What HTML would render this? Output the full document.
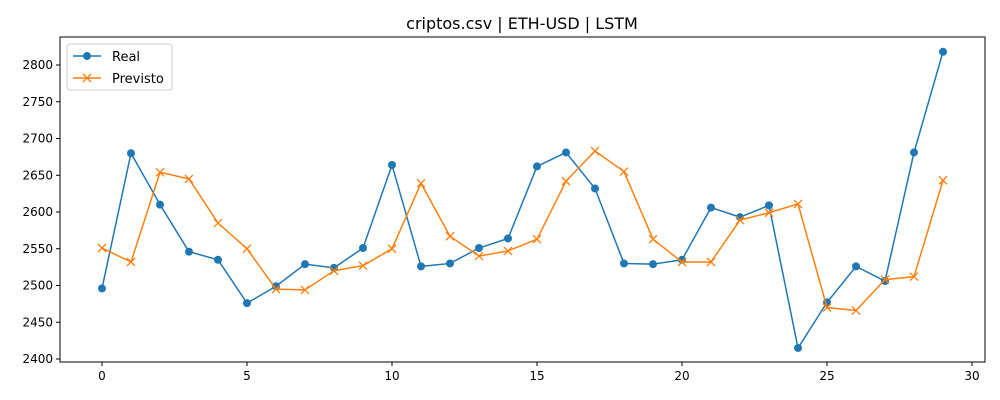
<!DOCTYPE html>
<html><head><meta charset="utf-8"><style>
body{margin:0;background:#fff;}
svg{display:block;font-family:"DejaVu Sans","Liberation Sans",sans-serif;}
</style></head><body>
<svg id="chart" width="1000" height="400">
<text x="522" y="29" font-size="16" text-anchor="middle">criptos.csv | ETH-USD | LSTM</text>
</svg>
<script>
const xValues=[0,1,2,3,4,5,6,7,8,9,10,11,12,13,14,15,16,17,18,19,20,21,22,23,24,25,26,27,28,29];
const realValues=[2496,2680,2610,2546,2535,2476,2499,2529,2524,2551,2664,2526,2530,2551,2564,2662,2681,2632,2530,2529,2535,2606,2593,2609,2415,2477,2526,2506,2681,2818];
const predValues=[2551,2532,2654,2645,2585,2550,2495,2494,2520,2527,2550,2639,2567,2540,2547,2563,2642,2683,2655,2563,2532,2532,2589,2599,2611,2470,2466,2508,2512,2643];
const xTicks=[0,5,10,15,20,25,30];
const yTicks=[2400,2450,2500,2550,2600,2650,2700,2750,2800];
const L=60,R=985,T=37,B=362;
const sx=v=>102+v*29;
const sy=v=>359-(v-2400)*0.735;
const svg=document.getElementById('chart');
const NS='http://www.w3.org/2000/svg';
function mk(tag,attrs,parent){const e=document.createElementNS(NS,tag);for(const k in attrs)e.setAttribute(k,attrs[k]);(parent||svg).appendChild(e);return e;}
const frame=mk('rect',{x:L,y:T,width:R-L,height:B-T,fill:'none',stroke:'#000','stroke-width':1});


xTicks.forEach(t=>{
 const x=sx(t);
 const l=mk('line',{x1:x,x2:x,y1:B,y2:B+4,stroke:'#000'});
 
 
 const tx=mk('text',{x:x,y:B+18,'font-size':12,'text-anchor':'middle'});tx.textContent=t;
 
 
});
yTicks.forEach(t=>{
 const y=sy(t);
 const l=mk('line',{x1:L-4,x2:L,y1:y,y2:y,stroke:'#000'});
 
 
 const tx=mk('text',{x:L-7,y:y+4,'font-size':12,'text-anchor':'end'});tx.textContent=t;
 
 
});
function series(vals,color,marker,name){
 const pts=vals.map((v,i)=>sx(xValues[i])+','+sy(v)).join(' ');
 const pl=mk('polyline',{points:pts,fill:'none',stroke:color,'stroke-width':1.5});
 
 
 vals.forEach((v,i)=>{
  const x=sx(xValues[i]),y=sy(v);let m;
  if(marker==='o'){m=mk('circle',{cx:x,cy:y,r:4,fill:color});}
  else{m=mk('path',{d:`M${x-4},${y-4}L${x+4},${y+4}M${x-4},${y+4}L${x+4},${y-4}`,stroke:color,'stroke-width':1.3,fill:'none'});}
  
  
 });
}
series(realValues,'#1f77b4','o','real');
series(predValues,'#ff7f0e','x','previsto');
const lg=mk('g',{});


mk('rect',{x:67,y:44,width:105,height:46,rx:3,fill:'#fff',stroke:'#ccc'},lg);
mk('line',{x1:73,x2:101,y1:56,y2:56,stroke:'#1f77b4','stroke-width':1.5},lg);
mk('circle',{cx:87,cy:56,r:4,fill:'#1f77b4'},lg);
const t1=mk('text',{x:112,y:61,'font-size':13},lg);t1.textContent='Real';


mk('line',{x1:73,x2:101,y1:78,y2:78,stroke:'#ff7f0e','stroke-width':1.5},lg);
mk('path',{d:'M83,74L91,82M83,82L91,74',stroke:'#ff7f0e','stroke-width':1.3},lg);
const t2=mk('text',{x:112,y:83,'font-size':13},lg);t2.textContent='Previsto';


</script>
</body></html>
